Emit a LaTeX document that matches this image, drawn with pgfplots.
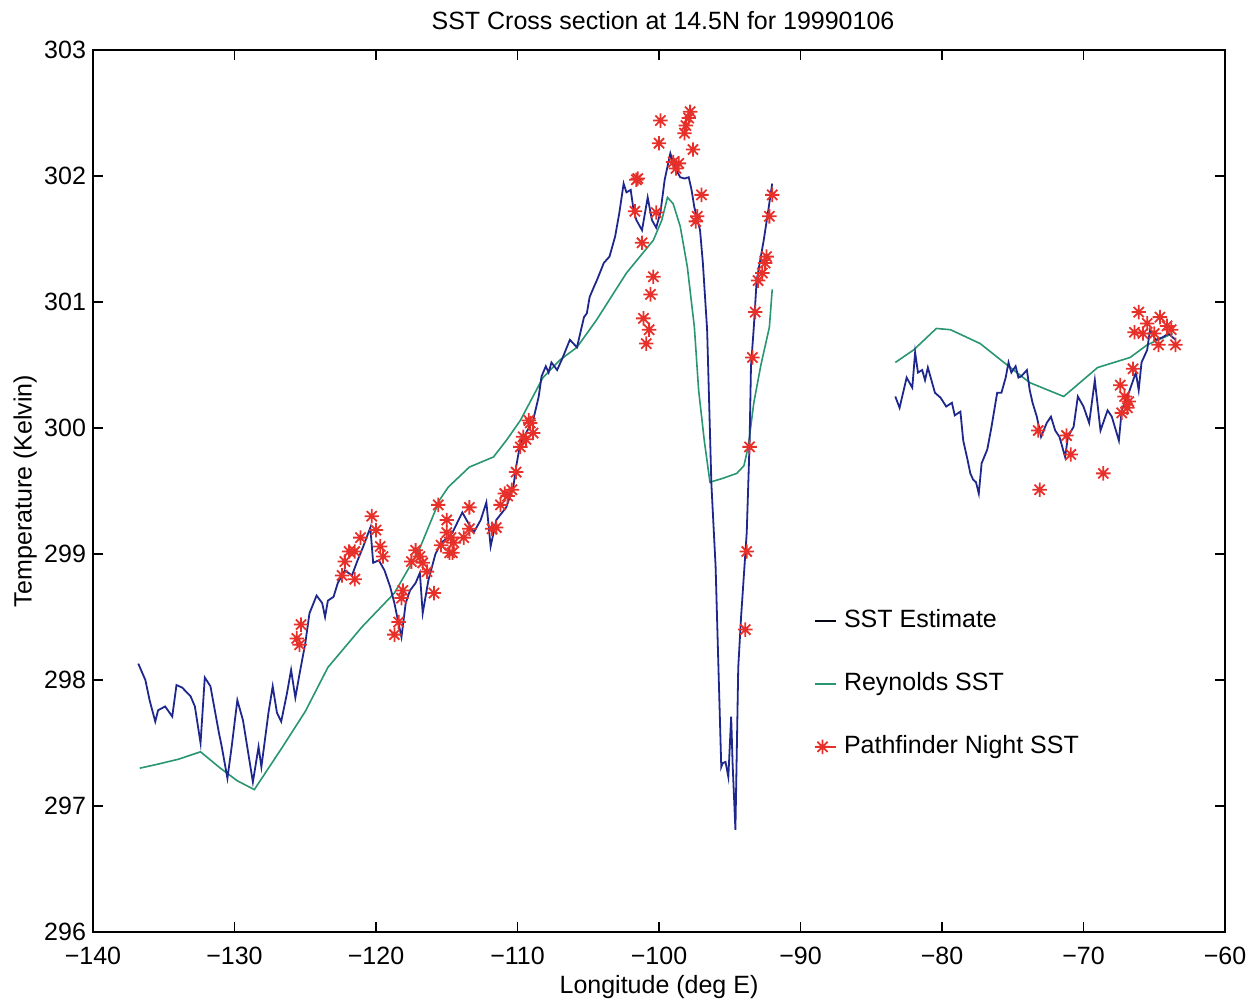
\documentclass[border=0pt]{standalone}
\usepackage{pgfplots}
\pgfplotsset{compat=1.18}
\usepackage{fontspec}
\setmainfont{Liberation Sans}
\usetikzlibrary{calc}

\definecolor{sstblue}{RGB}{30,40,140}
\definecolor{reyngreen}{RGB}{40,150,110}
\definecolor{pfred}{RGB}{232,48,42}

% MATLAB-style eight-armed asterisk
\pgfdeclareplotmark{mstar}{%
  \pgfpathmoveto{\pgfqpointpolar{0}{\pgfplotmarksize}}\pgfpathlineto{\pgfqpointpolar{180}{\pgfplotmarksize}}%
  \pgfpathmoveto{\pgfqpointpolar{90}{\pgfplotmarksize}}\pgfpathlineto{\pgfqpointpolar{270}{\pgfplotmarksize}}%
  \pgfpathmoveto{\pgfqpointpolar{45}{\pgfplotmarksize}}\pgfpathlineto{\pgfqpointpolar{225}{\pgfplotmarksize}}%
  \pgfpathmoveto{\pgfqpointpolar{135}{\pgfplotmarksize}}\pgfpathlineto{\pgfqpointpolar{315}{\pgfplotmarksize}}%
  \pgfusepathqstroke}

% short legend samples
\pgfplotsset{
  shortline/.style={legend image code/.code={\draw[##1] (0pt,0pt) -- (10.8pt,0pt);}},
  shortmark/.style={legend image code/.code={\path (0pt,0pt) -- (10.8pt,0pt);\draw[##1] plot coordinates {(4pt,0pt)};}},
}

\begin{document}
\begin{tikzpicture}
\begin{axis}[
  name=ax,
  scale only axis,
  width=566pt, height=441pt,
  xmin=-140, xmax=-60, ymin=296, ymax=303,
  xtick={-140,-130,...,-60},
  xticklabels={−140,−130,−120,−110,−100,−90,−80,−70,−60},
  ytick={296,297,...,303},
  /pgf/number format/assume math mode=true,
  /pgf/number format/1000 sep={},
  tick align=inside, tick pos=both,
  major tick length=5pt,
  axis line style={line width=0.6pt},
  every tick/.style={black, line width=0.6pt},
  font=\fontsize{12.5}{15}\selectfont,
  ticklabel style={font=\fontsize{12.5}{15}\selectfont},
  xticklabel style={anchor=base, yshift=-16.3pt},
  title={SST Cross section at 14.5N for 19990106},
  title style={at={(axis description cs:0.5,1)}, anchor=base, yshift=4.3pt, xshift=2pt},
  xlabel={Longitude (deg E)},
  xlabel style={at={(axis description cs:0.5,0)}, anchor=base, yshift=-30.7pt},
  ylabel={Temperature (Kelvin)},
  ylabel style={at={(axis description cs:-0.060,0.5)}, anchor=center},
  legend style={draw=none, fill=none, at={(axis cs:-89.1,298.58)}, anchor=north west,
    inner sep=0pt, row sep=18pt,
    nodes={inner sep=1pt, text height=9pt, text depth=2.5pt},
    /tikz/every odd column/.append style={column sep=2.5pt},
    font=\fontsize{12.5}{15}\selectfont},
  legend cell align=left,
  clip=true,
]
% legend entries
\addlegendimage{shortline, black!85!sstblue, line width=0.9pt}
\addlegendentry{SST Estimate}
\addlegendimage{shortline, reyngreen, line width=0.9pt}
\addlegendentry{Reynolds SST}
\addlegendimage{shortmark, only marks, mark=mstar, mark size=3.6pt, pfred, line width=0.9pt}
\addlegendentry{Pathfinder Night SST}

% Reynolds SST, western segment
\addplot[forget plot, reyngreen, line width=0.8pt] coordinates {
(-136.7,297.30) (-135.5,297.33) (-134.0,297.37) (-132.4,297.43) (-131.0,297.30)
(-129.8,297.20) (-128.6,297.13) (-127.6,297.30) (-126.6,297.47) (-125.0,297.75)
(-123.4,298.10) (-121.0,298.42) (-118.7,298.69) (-117.0,299.02) (-115.5,299.43)
(-114.9,299.53) (-113.4,299.69) (-111.7,299.77) (-110.8,299.90) (-109.8,300.06)
(-108.2,300.40) (-107.0,300.54) (-105.8,300.64) (-104.4,300.86) (-102.3,301.23)
(-100.4,301.49) (-99.8,301.65) (-99.4,301.83) (-99.0,301.78) (-98.5,301.60)
(-98.0,301.28) (-97.5,300.80) (-97.2,300.30) (-96.8,299.90) (-96.4,299.57)
(-95.5,299.60) (-94.5,299.64) (-94.0,299.70) (-93.7,299.85) (-93.3,300.20)
(-92.8,300.50) (-92.2,300.80) (-92.0,301.10)
};
% Reynolds SST, eastern segment
\addplot[forget plot, reyngreen, line width=0.8pt] coordinates {
(-83.3,300.52) (-82.0,300.62) (-80.4,300.79) (-79.4,300.78) (-77.3,300.67)
(-75.4,300.50) (-73.8,300.36) (-71.4,300.25) (-69.0,300.48) (-66.7,300.56)
(-65.5,300.66) (-63.7,300.75)
};

% SST estimate, western segment
\addplot[forget plot, sstblue, line width=0.9pt] coordinates {
(-136.8,298.13) (-136.3,298.00) (-136.0,297.84) (-135.6,297.67) (-135.4,297.76)
(-134.9,297.79) (-134.4,297.71) (-134.1,297.96) (-133.7,297.94) (-133.1,297.87)
(-132.8,297.79) (-132.4,297.50) (-132.1,298.02) (-131.7,297.95) (-131.1,297.58)
(-130.9,297.47) (-130.5,297.22) (-130.2,297.47) (-129.8,297.84) (-129.4,297.68)
(-128.7,297.19) (-128.3,297.47) (-128.1,297.31) (-127.6,297.74) (-127.3,297.95)
(-127.0,297.74) (-126.7,297.67) (-126.3,297.89) (-126.0,298.08) (-125.7,297.86)
(-125.4,298.05) (-125.0,298.29) (-124.7,298.53) (-124.2,298.67) (-123.8,298.61)
(-123.6,298.50) (-123.4,298.63) (-123.0,298.66) (-122.7,298.77) (-122.2,298.87)
(-121.7,298.83) (-121.3,298.95) (-120.9,299.06) (-120.4,299.21) (-120.2,298.93)
(-119.8,298.95) (-119.4,298.87) (-119.0,298.74) (-118.7,298.61) (-118.5,298.50)
(-118.2,298.34) (-117.9,298.61) (-117.6,298.71) (-117.2,298.77) (-116.9,298.85)
(-116.7,298.53) (-116.3,298.79) (-115.8,299.00) (-115.4,299.09) (-114.9,299.13)
(-114.6,299.17) (-113.9,299.33) (-113.1,299.17) (-112.6,299.27) (-112.2,299.41)
(-111.9,299.06) (-111.5,299.27) (-110.8,299.37) (-110.3,299.53) (-110.1,299.69)
(-109.8,299.88) (-109.4,299.96) (-108.9,300.06) (-108.5,300.25) (-108.3,300.41)
(-108.0,300.49) (-107.8,300.44) (-107.6,300.52) (-107.2,300.46) (-106.8,300.56)
(-106.3,300.70) (-105.8,300.64) (-105.3,300.88) (-105.1,300.91) (-104.9,301.04)
(-104.6,301.12) (-104.4,301.17) (-103.9,301.31) (-103.5,301.36) (-103.1,301.52)
(-102.8,301.71) (-102.5,301.94) (-102.3,301.87) (-102.0,301.89) (-101.8,301.73)
(-101.6,301.65) (-101.2,301.57) (-100.8,301.83) (-100.5,301.65) (-100.2,301.59)
(-99.9,301.71) (-99.6,301.97) (-99.2,302.18) (-98.9,302.07) (-98.5,301.99)
(-98.2,301.98) (-97.9,301.99) (-97.7,301.89) (-97.5,301.75) (-97.1,301.57)
(-96.9,301.31) (-96.6,300.78) (-96.5,300.38) (-96.3,299.56) (-96.0,298.90)
(-95.8,298.10) (-95.6,297.31) (-95.5,297.34) (-95.3,297.35) (-95.1,297.23)
(-94.9,297.71) (-94.8,297.34) (-94.6,296.81) (-94.4,298.10) (-94.2,298.50)
(-93.8,299.17) (-93.6,299.88) (-93.5,300.49) (-93.3,300.80) (-93.1,301.17)
(-92.6,301.49) (-92.3,301.71) (-92.0,301.94)
};
% SST estimate, eastern segment
\addplot[forget plot, sstblue, line width=0.9pt] coordinates {
(-83.3,300.25) (-83.0,300.16) (-82.5,300.40) (-82.1,300.32) (-81.9,300.60)
(-81.7,300.44) (-81.4,300.46) (-81.2,300.38) (-81.0,300.48) (-80.7,300.36)
(-80.5,300.28) (-80.1,300.24) (-79.7,300.17) (-79.3,300.20) (-79.1,300.10)
(-78.7,300.13) (-78.5,299.90) (-78.2,299.75) (-78.0,299.64) (-77.8,299.59)
(-77.6,299.57) (-77.4,299.48) (-77.2,299.72) (-76.8,299.83) (-76.5,300.01)
(-76.1,300.28) (-75.8,300.28) (-75.5,300.40) (-75.3,300.52) (-75.1,300.44)
(-74.8,300.49) (-74.6,300.40) (-74.4,300.41) (-74.0,300.46) (-73.8,300.30)
(-73.6,300.20) (-73.3,300.09) (-73.0,299.93) (-72.6,300.04) (-72.3,300.09)
(-72.0,299.98) (-71.7,299.93) (-71.3,299.77) (-71.1,299.93) (-70.7,300.01)
(-70.4,300.25) (-70.0,300.17) (-69.6,300.04) (-69.2,300.38) (-68.8,299.98)
(-68.3,300.14) (-68.0,300.09) (-67.5,299.90) (-67.3,300.14) (-66.8,300.28)
(-66.3,300.44) (-66.1,300.30) (-65.9,300.52) (-65.5,300.62) (-65.3,300.78)
(-64.9,300.70) (-64.4,300.72) (-64.0,300.75) (-63.5,300.70)
};

% Pathfinder night SST
\addplot[forget plot, only marks, mark=mstar, mark size=3.6pt, pfred, line width=0.9pt] coordinates {
(-125.3,298.44) (-125.6,298.33) (-125.4,298.28)
(-120.3,299.30) (-120.0,299.19) (-121.1,299.13) (-121.9,299.02) (-121.5,299.02)
(-122.2,298.94) (-122.4,298.83) (-121.5,298.80) (-119.7,299.06) (-119.5,298.98)
(-118.1,298.71) (-118.2,298.65) (-118.4,298.46) (-118.7,298.36)
(-117.2,299.03) (-116.9,298.98) (-117.5,298.94) (-116.7,298.93) (-115.9,298.69)
(-115.6,299.39) (-115.0,299.27) (-115.4,299.07) (-114.7,299.13) (-114.8,299.01)
(-113.4,299.37) (-115.0,299.17) (-114.5,299.09) (-114.6,299.01) (-113.8,299.13)
(-113.4,299.20) (-116.4,298.86)
(-111.5,299.21) (-111.8,299.20) (-111.2,299.39) (-110.9,299.48) (-110.4,299.51)
(-110.7,299.46) (-110.1,299.65) (-109.8,299.85) (-109.6,299.93) (-109.1,300.04)
(-108.9,299.96) (-109.4,299.91) (-109.2,300.06)
(-99.9,302.44) (-100.0,302.26) (-97.8,302.51) (-97.9,302.46) (-98.1,302.40)
(-98.2,302.34) (-97.6,302.21) (-99.0,302.11) (-98.6,302.10) (-98.8,302.06)
(-101.5,301.98) (-101.6,301.97) (-97.0,301.85) (-101.7,301.72) (-100.2,301.71)
(-97.3,301.68) (-97.4,301.64) (-101.2,301.47) (-100.4,301.20) (-100.6,301.06)
(-101.1,300.87) (-100.7,300.78) (-100.9,300.67)
(-92.0,301.85) (-92.2,301.68) (-92.4,301.36) (-92.5,301.31) (-92.7,301.23)
(-93.0,301.17) (-93.2,300.92) (-93.4,300.56) (-93.6,299.85) (-93.8,299.02)
(-93.9,298.40)
(-73.2,299.98) (-73.1,299.51) (-71.2,299.94) (-70.9,299.79) (-68.6,299.64)
(-66.5,300.47) (-67.4,300.34) (-67.1,300.25) (-66.8,300.21) (-66.9,300.16)
(-67.3,300.12) (-66.1,300.92) (-66.4,300.76) (-65.5,300.83) (-64.6,300.88)
(-65.0,300.75) (-64.1,300.81) (-63.8,300.78) (-63.5,300.66) (-64.7,300.66)
(-65.8,300.75)
};
\end{axis}
% fixed page frame around the axis and its labels
\pgfresetboundingbox
\useasboundingbox ($(ax.south west)+(-46.5pt,-35pt)$) rectangle ($(ax.north east)+(13.5pt,25pt)$);
\end{tikzpicture}
\end{document}
